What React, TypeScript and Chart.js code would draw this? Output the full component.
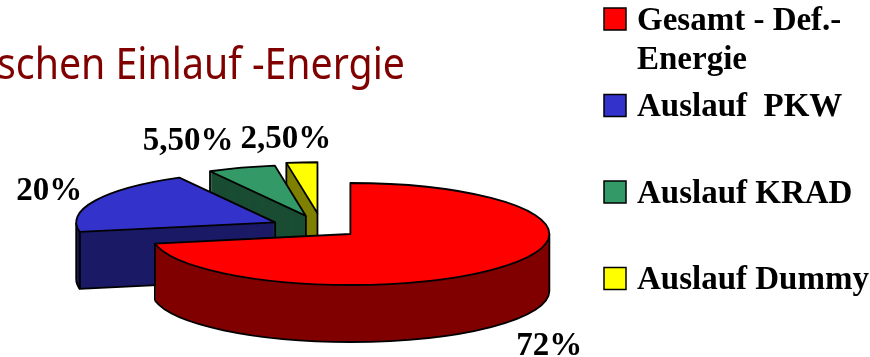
import { useEffect, useRef } from "react";
import { Chart, registerables } from "chart.js";

Chart.register(...registerables);

// ---- data ----
const categories = ["Gesamt - Def.-\nEnergie", "Auslauf  PKW", "Auslauf KRAD", "Auslauf Dummy"];
const shares = [72, 20, 5.5, 2.5];
const valueLabels = ["72%", "20%", "5,50%", "2,50%"];
const explode = [0.185, 0.26, 0.25, 0.29];
const topColors = ["#FF0000", "#3333CC", "#339966", "#FFFF00"];
const sideColors = ["#800000", "#1A1A66", "#1A4D33", "#808000"];
const titleText = "schen Einlauf -Energie";

// ---- layout ----
const W = 870;
const H = 357;
const RADIUS = 100;
const SX = 1.99;
const SY = 0.51;
const DEPTH = 57;
const CX = 322;
const CY = 228;
const HALF = 110;
// fine placement of the value labels (dx, dy) relative to the computed anchor
const labelShift = [
  [-7, 2],
  [7, 2],
  [8, -6],
  [-10, 5],
];

type Slice = { i: number; cx: number; cy: number; rx: number; ry: number; s: number; e: number; mid: number };

function getSlices(chart: any): Slice[] {
  const meta = chart.getDatasetMeta(0);
  return meta.data.map((el: any, i: number) => {
    const p = el.getProps(["x", "y", "startAngle", "endAngle", "outerRadius"], true);
    const off = (el.options && el.options.offset) || 0;
    const mid = (p.startAngle + p.endAngle) / 2;
    return {
      i,
      cx: p.x + Math.cos(mid) * off * SX,
      cy: p.y + Math.sin(mid) * off * SY,
      rx: p.outerRadius * SX,
      ry: p.outerRadius * SY,
      s: p.startAngle,
      e: p.endAngle,
      mid,
    };
  });
}

function sectorPath(ctx: CanvasRenderingContext2D, sl: Slice, dy: number) {
  ctx.beginPath();
  ctx.moveTo(sl.cx, sl.cy + dy);
  ctx.ellipse(sl.cx, sl.cy + dy, sl.rx, sl.ry, 0, sl.s, sl.e);
  ctx.closePath();
}

function rim(sl: Slice, a: number) {
  return { x: sl.cx + Math.cos(a) * sl.rx, y: sl.cy + Math.sin(a) * sl.ry };
}

const pie3d = {
  id: "pie3d",
  beforeDatasetsDraw(chart: any) {
    const ctx: CanvasRenderingContext2D = chart.ctx;
    const slices = getSlices(chart);
    const order = [...slices].sort(
      (a, b) => a.cy + Math.sin(a.mid) * a.ry * 0.5 - (b.cy + Math.sin(b.mid) * b.ry * 0.5)
    );
    ctx.save();
    ctx.lineJoin = "round";
    for (const sl of order) {
      // extrusion
      ctx.fillStyle = sideColors[sl.i];
      for (let d = DEPTH; d >= 1; d--) {
        sectorPath(ctx, sl, d);
        ctx.fill();
      }
      ctx.strokeStyle = "#000";
      ctx.lineWidth = 1.8;
      // front outer band
      const a0 = Math.max(sl.s, 0);
      const a1 = Math.min(sl.e, Math.PI);
      if (a1 > a0) {
        ctx.beginPath();
        ctx.ellipse(sl.cx, sl.cy + DEPTH, sl.rx, sl.ry, 0, a0, a1);
        ctx.stroke();
        for (const a of [a0, a1]) {
          const p = rim(sl, a);
          ctx.beginPath();
          ctx.moveTo(p.x, p.y);
          ctx.lineTo(p.x, p.y + DEPTH);
          ctx.stroke();
        }
      }
      // radial cut faces
      const faces: number[] = [];
      if (Math.cos(sl.s) < -1e-6) faces.push(sl.s);
      if (Math.cos(sl.e) > 1e-6) faces.push(sl.e);
      for (const a of faces) {
        const p = rim(sl, a);
        ctx.beginPath();
        ctx.moveTo(p.x, p.y);
        ctx.lineTo(p.x, p.y + DEPTH);
        ctx.lineTo(sl.cx, sl.cy + DEPTH);
        ctx.lineTo(sl.cx, sl.cy);
        ctx.stroke();
      }
      // top face
      sectorPath(ctx, sl, 0);
      ctx.fillStyle = topColors[sl.i];
      ctx.fill();
      ctx.stroke();
    }
    ctx.restore();
    return false;
  },
  afterDraw(chart: any) {
    const ctx: CanvasRenderingContext2D = chart.ctx;
    ctx.save();
    // title
    ctx.font = "44px 'Noto Sans'";
    ctx.fillStyle = "#800000";
    ctx.textBaseline = "alphabetic";
    ctx.textAlign = "left";
    const tw = ctx.measureText(titleText).width;
    ctx.translate(-3, 79);
    ctx.scale(408 / tw, 1);
    ctx.fillText(titleText, 0, 0);
    ctx.restore();

    // value labels
    ctx.save();
    ctx.font = "bold 33px 'Liberation Serif'";
    ctx.fillStyle = "#000";
    const slices = getSlices(chart);
    for (const sl of slices) {
      const p = rim(sl, sl.mid);
      let y = p.y;
      const dxs = Math.cos(sl.mid) * sl.rx;
      const dys = Math.sin(sl.mid) * sl.ry;
      const len = Math.hypot(dxs, dys) || 1;
      const ux = dxs / len;
      const uy = dys / len;
      if (uy > 0) y += DEPTH;
      const ax = p.x + ux * 20 + labelShift[sl.i][0];
      const ay = y + uy * 20 + labelShift[sl.i][1];
      ctx.textAlign = ux < -0.3 ? "right" : ux > 0.3 ? "left" : "center";
      ctx.textBaseline = uy < 0 ? "alphabetic" : "top";
      ctx.fillText(valueLabels[sl.i], ax, ay);
    }
    ctx.restore();

    // legend
    ctx.save();
    ctx.font = "bold 33px 'Liberation Serif'";
    ctx.textAlign = "left";
    ctx.textBaseline = "alphabetic";
    const labels: string[] = chart.data.labels;
    labels.forEach((lab, i) => {
      const top = 8 + i * 86.5;
      ctx.fillStyle = topColors[i];
      ctx.fillRect(604, top, 22, 22);
      ctx.strokeStyle = "#000";
      ctx.lineWidth = 1.5;
      ctx.strokeRect(604, top, 22, 22);
      ctx.fillStyle = "#000";
      lab.split("\n").forEach((line, j) => {
        ctx.fillText(line, 637, top + 21.5 + j * 39);
      });
    });
    ctx.restore();
  },
};

export default function App() {
  const ref = useRef<HTMLCanvasElement>(null);
  useEffect(() => {
    if (!ref.current) return;
    const chart = new Chart(ref.current, {
      type: "pie",
      data: {
        labels: categories,
        datasets: [
          {
            data: shares,
            backgroundColor: topColors,
            borderWidth: 0,
            offset: explode.map((f) => f * RADIUS),
            radius: RADIUS,
          } as any,
        ],
      },
      options: {
        responsive: false,
        animation: false,
        events: [],
        layout: {
          padding: {
            left: CX - HALF,
            right: W - CX - HALF,
            top: CY - HALF,
            bottom: H - CY - HALF,
          },
        },
        plugins: {
          legend: { display: false },
          tooltip: { enabled: false },
          title: { display: false },
        },
      },
      plugins: [pie3d as any],
    });
    return () => chart.destroy();
  }, []);
  return (
    <div style={{ position: "absolute", left: 0, top: 0, width: W, height: H, background: "#fff" }}>
      <canvas ref={ref} width={W} height={H} style={{ display: "block" }} />
    </div>
  );
}
